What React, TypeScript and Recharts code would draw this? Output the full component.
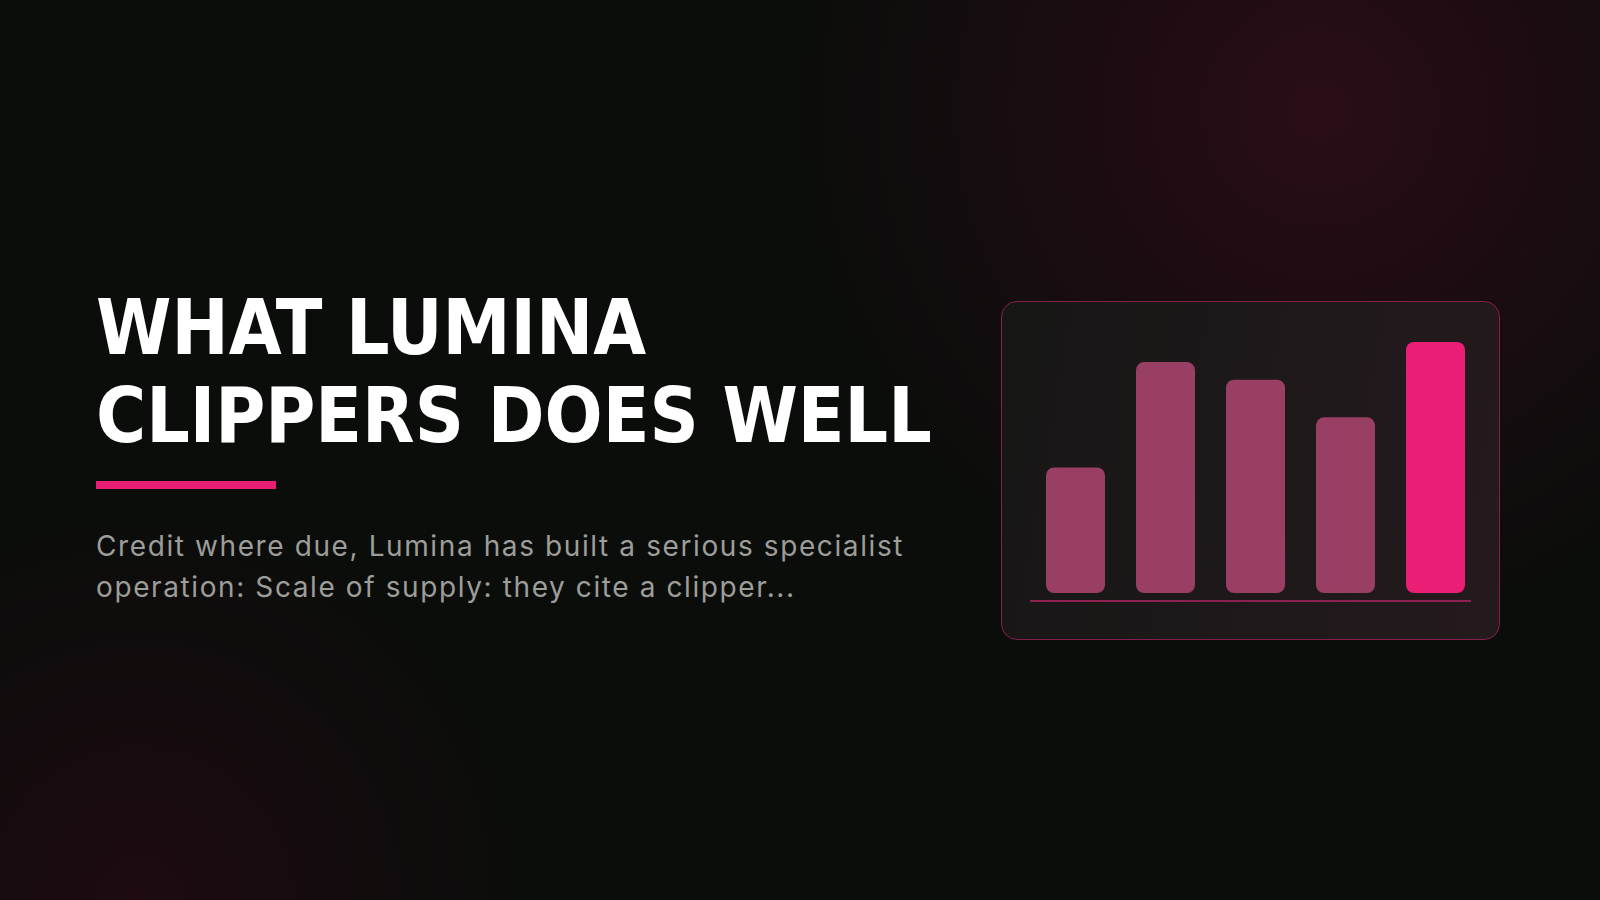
import React from 'react';
import { BarChart, Bar, XAxis, YAxis, Cell } from 'recharts';

// chart values
const categories = ['A', 'B', 'C', 'D', 'E'];
const scores = [50, 92, 85, 70, 100];
const highlightIndex = 4;

const titleLines = ['WHAT LUMINA', 'CLIPPERS DOES WELL'];
const bodyLines = [
  'Credit where due, Lumina has built a serious specialist',
  'operation: Scale of supply: they cite a clipper...',
];

const chartData = categories.map((name, i) => ({ name, value: scores[i] }));

const App: React.FC = () => {
  return (
    <div
      style={{
        position: 'absolute',
        left: 0,
        top: 0,
        width: 1600,
        height: 900,
        overflow: 'hidden',
        backgroundColor: '#0b0d0b',
        backgroundImage:
          'radial-gradient(circle at 1320px 110px, rgba(46,13,25,0.9) 0px, rgba(40,12,22,0.6) 220px, rgba(11,13,11,0) 520px),' +
          'radial-gradient(circle at 140px 900px, rgba(34,10,18,0.8) 0px, rgba(11,13,11,0) 380px)',
      }}
    >
      {/* title */}
      <div
        style={{
          position: 'absolute',
          left: 96,
          top: 284,
          fontFamily: '"DejaVu Sans Condensed", "DejaVu Sans", sans-serif',
          fontStretch: 'condensed',
          fontWeight: 700,
          fontSize: 76,
          lineHeight: '88px',
          color: '#ffffff',
          whiteSpace: 'nowrap',
        }}
      >
        {titleLines.map((t) => (
          <div key={t}>{t}</div>
        ))}
      </div>

      {/* accent bar */}
      <div style={{ position: 'absolute', left: 96, top: 481, width: 180, height: 8, background: '#e91e74' }} />

      {/* body copy */}
      <div
        style={{
          position: 'absolute',
          left: 96,
          top: 526,
          fontFamily: 'Inter, "Noto Sans", sans-serif',
          fontSize: 28,
          lineHeight: '41px',
          letterSpacing: '1.6px',
          color: '#9d9d99',
          whiteSpace: 'nowrap',
        }}
      >
        {bodyLines.map((t) => (
          <div key={t}>{t}</div>
        ))}
      </div>

      {/* chart card */}
      <div
        style={{
          position: 'absolute',
          left: 1001,
          top: 301,
          width: 499,
          height: 339,
          boxSizing: 'border-box',
          border: '1.5px solid #84204c',
          borderRadius: 16,
          background: 'linear-gradient(100deg, #171716 0%, #1d1819 45%, #251a1d 100%)',
        }}
      />

      <div style={{ position: 'absolute', left: 1030, top: 342 }}>
        <BarChart width={450} height={251} data={chartData} margin={{ top: 0, right: 0, bottom: 0, left: 0 }}>
          <XAxis dataKey="name" hide />
          <YAxis domain={[0, 100]} hide />
          <Bar dataKey="value" barSize={59} radius={8} isAnimationActive={false}>
            {chartData.map((d, i) => (
              <Cell key={d.name} fill={i === highlightIndex ? '#e91e74' : '#983f63'} />
            ))}
          </Bar>
        </BarChart>
      </div>

      {/* baseline under the bars */}
      <div style={{ position: 'absolute', left: 1030, top: 600, width: 441, height: 2, background: '#8e2150' }} />
    </div>
  );
};

export default App;
